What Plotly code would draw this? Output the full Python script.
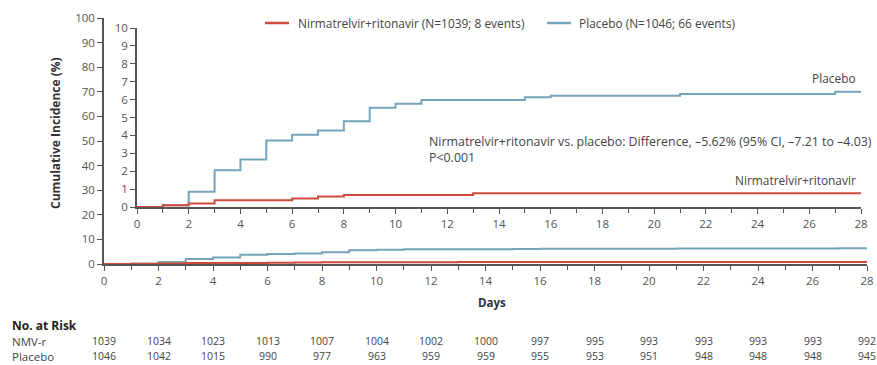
import plotly.graph_objects as go

W, H = 877, 365

# ---- data ----
placebo_days = [0, 1, 2, 3, 4, 5, 6, 7, 8, 9, 10, 11, 15, 16, 21, 27, 28]
placebo_pct = [0, 0.1, 0.85, 2.05, 2.66, 3.72, 4.04, 4.28, 4.79, 5.55, 5.77, 5.98, 6.13, 6.22, 6.31, 6.44, 6.44]
nmv_days = [0, 1, 2, 3, 6, 7, 8, 13, 28]
nmv_pct = [0, 0.1, 0.19, 0.38, 0.48, 0.58, 0.67, 0.77, 0.77]

risk_days = [0, 2, 4, 6, 8, 10, 12, 14, 16, 18, 20, 22, 24, 26, 28]
risk_nmv = [1039, 1034, 1023, 1013, 1007, 1004, 1002, 1000, 997, 995, 993, 993, 993, 993, 992]
risk_placebo = [1046, 1042, 1015, 990, 977, 963, 959, 959, 955, 953, 951, 948, 948, 948, 945]

legend_nmv = "Nirmatrelvir+ritonavir (N=1039; 8 events)"
legend_placebo = "Placebo (N=1046; 66 events)"

RED = "#cf4a3c"
BLUE = "#74a5bd"
AX = "#555555"
TXT = "#555555"
FONT = "Open Sans"
AFS = 11.9


def px(x):
    return x / W


def py(y):
    return 1 - y / H


fig = go.Figure()

# main axes curves
fig.add_trace(go.Scatter(x=placebo_days, y=placebo_pct, mode="lines", line=dict(color=BLUE, width=2, shape="hv"),
                         xaxis="x", yaxis="y", showlegend=False, hoverinfo="skip"))
fig.add_trace(go.Scatter(x=nmv_days, y=nmv_pct, mode="lines", line=dict(color=RED, width=2, shape="hv"),
                         xaxis="x", yaxis="y", showlegend=False, hoverinfo="skip"))
# inset curves
fig.add_trace(go.Scatter(x=placebo_days, y=placebo_pct, mode="lines", line=dict(color=BLUE, width=2, shape="hv"),
                         xaxis="x2", yaxis="y2", showlegend=False, hoverinfo="skip"))
fig.add_trace(go.Scatter(x=nmv_days, y=nmv_pct, mode="lines", line=dict(color=RED, width=2, shape="hv"),
                         xaxis="x2", yaxis="y2", showlegend=False, hoverinfo="skip"))

tickfont = dict(family=FONT, size=11.5, color=TXT)

axis_common = dict(showline=True, linecolor=AX, linewidth=1.5, ticks="outside", ticklen=5, tickwidth=1.2,
                   tickcolor=AX, showgrid=False, zeroline=False, tickfont=tickfont, fixedrange=True,
                   automargin=False)

fig.update_layout(
    width=W, height=H,
    margin=dict(l=0, r=0, t=0, b=0, pad=0),
    paper_bgcolor="white", plot_bgcolor="rgba(0,0,0,0)",
    font=dict(family=FONT, size=11, color=TXT),
    xaxis=dict(domain=[px(104), px(867)], range=[0, 28], anchor="y", tickmode="linear", tick0=0, dtick=2,
               minor=dict(dtick=1, ticks="outside", ticklen=4, tickcolor=AX, tickwidth=1.2), **axis_common),
    yaxis=dict(domain=[py(264), py(18)], range=[0, 100], anchor="x", tickmode="linear", tick0=0, dtick=10,
               **axis_common),
    xaxis2=dict(domain=[px(137), px(861)], range=[0, 28], anchor="y2", tickmode="linear", tick0=0, dtick=2,
                minor=dict(dtick=1, ticks="outside", ticklen=4, tickcolor=AX, tickwidth=1.2), **axis_common),
    yaxis2=dict(domain=[py(207), py(28)], range=[0, 10], anchor="x2", tickmode="linear", tick0=0, dtick=1,
                **axis_common),
)

ann = []
shapes = []

# legend
shapes.append(dict(type="line", xref="paper", yref="paper", x0=px(265), x1=px(289), y0=py(23), y1=py(23),
                   line=dict(color=RED, width=2.5)))
ann.append(dict(text=legend_nmv, xref="paper", yref="paper", x=px(296), y=py(23), xanchor="left", yanchor="middle",
                showarrow=False, font=dict(family=FONT, size=AFS, color="#444")))
shapes.append(dict(type="line", xref="paper", yref="paper", x0=px(547), x1=px(571), y0=py(23), y1=py(23),
                   line=dict(color=BLUE, width=2.5)))
ann.append(dict(text=legend_placebo, xref="paper", yref="paper", x=px(577), y=py(23), xanchor="left",
                yanchor="middle", showarrow=False, font=dict(family=FONT, size=AFS, color="#444")))

# curve labels and difference text
ann.append(dict(text="Placebo", xref="paper", yref="paper", x=px(858), y=py(78), xanchor="right", yanchor="middle",
                showarrow=False, font=dict(family=FONT, size=AFS, color="#444")))
ann.append(dict(text="Nirmatrelvir+ritonavir", xref="paper", yref="paper", x=px(858), y=py(180), xanchor="right",
                yanchor="middle", showarrow=False, font=dict(family=FONT, size=AFS, color="#444")))
ann.append(dict(text="Nirmatrelvir+ritonavir vs. placebo: Difference, \u20135.62% (95% CI, \u20137.21 to \u20134.03)",
                xref="paper", yref="paper", x=px(427), y=py(141), xanchor="left", yanchor="middle",
                showarrow=False, font=dict(family=FONT, size=12.4, color="#444")))
ann.append(dict(text="P<0.001", xref="paper", yref="paper", x=px(427), y=py(157), xanchor="left", yanchor="middle",
                showarrow=False, font=dict(family=FONT, size=12.4, color="#444")))

# axis titles
ann.append(dict(text="<b>Cumulative Incidence (%)</b>", xref="paper", yref="paper", x=px(56), y=py(133),
                xanchor="center", yanchor="middle", textangle=-90, showarrow=False,
                font=dict(family=FONT, size=12, color="#333")))
ann.append(dict(text="<b>Days</b>", xref="paper", yref="paper", x=px(492), y=py(302), xanchor="center",
                yanchor="middle", showarrow=False, font=dict(family=FONT, size=11.5, color="#333")))

# number at risk table
ann.append(dict(text="<b>No. at Risk</b>", xref="paper", yref="paper", x=px(10), y=py(325), xanchor="left",
                yanchor="middle", showarrow=False, font=dict(family=FONT, size=12, color="#222")))
ann.append(dict(text="NMV-r", xref="paper", yref="paper", x=px(10), y=py(341), xanchor="left",
                yanchor="middle", showarrow=False, font=dict(family=FONT, size=11.5, color="#444")))
ann.append(dict(text="Placebo", xref="paper", yref="paper", x=px(10), y=py(356), xanchor="left",
                yanchor="middle", showarrow=False, font=dict(family=FONT, size=11.5, color="#444")))
for d, a, b in zip(risk_days, risk_nmv, risk_placebo):
    ann.append(dict(text=str(a), xref="x", yref="paper", x=d, y=py(341), xanchor="center", yanchor="middle",
                    showarrow=False, font=dict(family=FONT, size=10.5, color="#444")))
    ann.append(dict(text=str(b), xref="x", yref="paper", x=d, y=py(356), xanchor="center", yanchor="middle",
                    showarrow=False, font=dict(family=FONT, size=10.5, color="#444")))

fig.update_layout(annotations=ann, shapes=shapes)

# remove the default 8px page margin so the figure fills the window exactly; hide the mode bar
fig.write_html("out.html",
               config={"displayModeBar": False},
               post_script="document.body.style.margin='0';document.documentElement.style.overflow='hidden';")
